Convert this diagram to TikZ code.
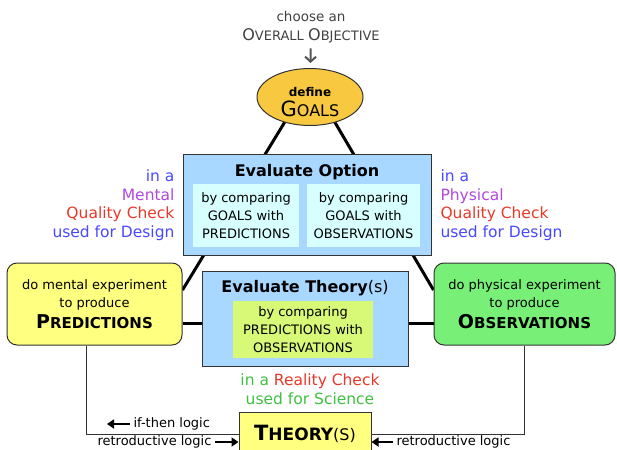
\documentclass[tikz,border=0pt]{standalone}
\usepackage{fontspec}
\setmainfont{DejaVu Sans}
\usetikzlibrary{arrows.meta,backgrounds,shapes.geometric}

\definecolor{goalgold}{HTML}{F8C840}
\definecolor{predyellow}{HTML}{FFFF80}
\definecolor{obsgreen}{HTML}{78F078}
\definecolor{evalblue}{HTML}{A8D8FF}
\definecolor{optcyan}{HTML}{D8FFFF}
\definecolor{thlime}{HTML}{D8F878}
\definecolor{txtblue}{HTML}{4848FF}
\definecolor{txtpurple}{HTML}{B048E0}
\definecolor{txtred}{HTML}{E83828}
\definecolor{txtgreen}{HTML}{40C040}
\definecolor{arrowgray}{HTML}{555555}

% fake small caps: big first letter, smaller rest
\newcommand{\capsc}[4]{{\fontsize{#1}{#1}\selectfont #2}{\fontsize{#3}{#3}\selectfont #4}}

\begin{document}
\begin{tikzpicture}[x=1pt, y=-1pt,
    boxtext/.style={font=\fontsize{13}{18}\selectfont, align=center},
    boxtitle/.style={font=\bfseries\fontsize{16}{18}\selectfont},
    sidetext/.style={font=\fontsize{15.5}{18.5}\selectfont},
    evalbox/.style={draw=black!80, line width=1pt, fill=evalblue, inner sep=0pt},
    innerbox/.style={boxtext, inner sep=0pt},
    stepbox/.style={draw=black!80, line width=1pt, rounded corners=10pt, boxtext,
        minimum width=#1, minimum height=82pt},
    link/.style={line width=3pt, black},
    feedback/.style={line width=1pt, black!80},
    logicarrow/.style={line width=2.5pt, -{Triangle[length=7pt,width=9pt]}}]

    \useasboundingbox (0,0) rectangle (617,449);
    \clip (0,0) rectangle (617,449);

    % Objective and goals
    \node[font=\fontsize{13.5}{19}\selectfont, text=black!75, align=center] (objective) at (311,27)
        {choose an\\\capsc{16}{O}{13}{VERALL} \capsc{16}{O}{13}{BJECTIVE}};
    \node[ellipse, draw=black!80, line width=1pt, fill=goalgold, inner sep=0pt,
        minimum width=106pt, minimum height=57pt] (goals) at (310,97) {};
    \node[align=center] (goaltext) at (310,102)
        {{\bfseries\fontsize{12}{14}\selectfont define}\\[3pt]\capsc{21}{G}{16}{OALS}};
    \draw[arrowgray, line width=2pt, -{Straight Barb[length=5pt,width=11pt]},
        shorten <=2pt, shorten >=5pt] (objective) -- (goals);

    % Evaluate Option
    \node[evalbox, minimum width=248pt, minimum height=101pt] (evalopt) at (307,204.5) {};
    \node[boxtitle] (optitle) at (307,172) {Evaluate Option};
    \node[innerbox, fill=optcyan, minimum width=106pt, minimum height=63pt] (optpred) at (246,215.5)
        {by comparing\\GOALS with\\PREDICTIONS};
    \node[innerbox, fill=optcyan, minimum width=113pt, minimum height=63pt] (optobs) at (363.5,215.5)
        {by comparing\\GOALS with\\OBSERVATIONS};

    % Quality checks
    \node[sidetext, align=right, anchor=east] (mentalnote) at (178,205)
        {\textcolor{txtblue}{in a}\\\textcolor{txtpurple}{Mental}\\
         \textcolor{txtred}{Quality Check}\\\textcolor{txtblue}{used for Design}};
    \node[sidetext, align=left, anchor=west] (physicalnote) at (437,205)
        {\textcolor{txtblue}{in a}\\\textcolor{txtpurple}{Physical}\\
         \textcolor{txtred}{Quality Check}\\\textcolor{txtblue}{used for Design}};

    % Experiments
    \node[stepbox=175pt, fill=predyellow] (pred) at (94.5,304)
        {do mental experiment\\to produce\\[3pt]{\bfseries\capsc{19}{P}{15}{REDICTIONS}}};
    \node[stepbox=181pt, fill=obsgreen] (obs) at (524.5,304)
        {do physical experiment\\to produce\\[3pt]{\bfseries\capsc{19}{O}{15}{BSERVATIONS}}};

    % Evaluate Theory
    \node[evalbox, minimum width=206pt, minimum height=95pt] (evalth) at (305,318.5) {};
    \node[boxtitle] (thtitle) at (305,288) {Evaluate Theory{\mdseries(s)}};
    \node[innerbox, fill=thlime, minimum width=140pt, minimum height=57pt] (thcomp) at (303,329.5)
        {by comparing\\PREDICTIONS with\\OBSERVATIONS};
    \node[sidetext, align=center] (realitynote) at (310,389)
        {\textcolor{txtgreen}{in a} \textcolor{txtred}{Reality Check}\\\textcolor{txtgreen}{used for Science}};

    % Theory
    \node[draw=black!80, line width=1pt, fill=predyellow, minimum width=132pt, minimum height=44pt] (theory) at (305,434)
        {{\bfseries\capsc{21}{T}{17}{HEORY}}{\fontsize{16}{16}\selectfont(S)}};

    % Connections
    \begin{scope}[on background layer]
        \draw[link] ([xshift=-10pt]goals.center) -- ([yshift=14pt]pred.east);
        \draw[link] ([xshift=10pt]goals.center) -- ([yshift=14pt]obs.west);
    \end{scope}
    \draw[link] ([yshift=-19pt]pred.east) -- ([yshift=-19pt]pred.east -| evalth.west);
    \draw[link] ([yshift=-19pt]obs.west) -- ([yshift=-19pt]obs.west -| evalth.east);
    \draw[feedback] ([xshift=-8.5pt]pred.south) |- (theory.west);
    \draw[feedback] (obs.south) |- (theory.east);

    % Logic labels
    \node[boxtext, anchor=west] (ifthen) at (130,424) {if-then logic};
    \coordinate (ifthenhead) at (107,424);
    \draw[logicarrow] (ifthen.west) -- (ifthenhead);
    \node[boxtext, anchor=east] (retroleft) at (215,442) {retroductive logic};
    \draw[logicarrow] (retroleft.east) -- (retroleft.east -| theory.west);
    \node[boxtext, anchor=west] (retroright) at (393,442) {retroductive logic};
    \draw[logicarrow] (retroright.west) -- (retroright.west -| theory.east);
\end{tikzpicture}
\end{document}
